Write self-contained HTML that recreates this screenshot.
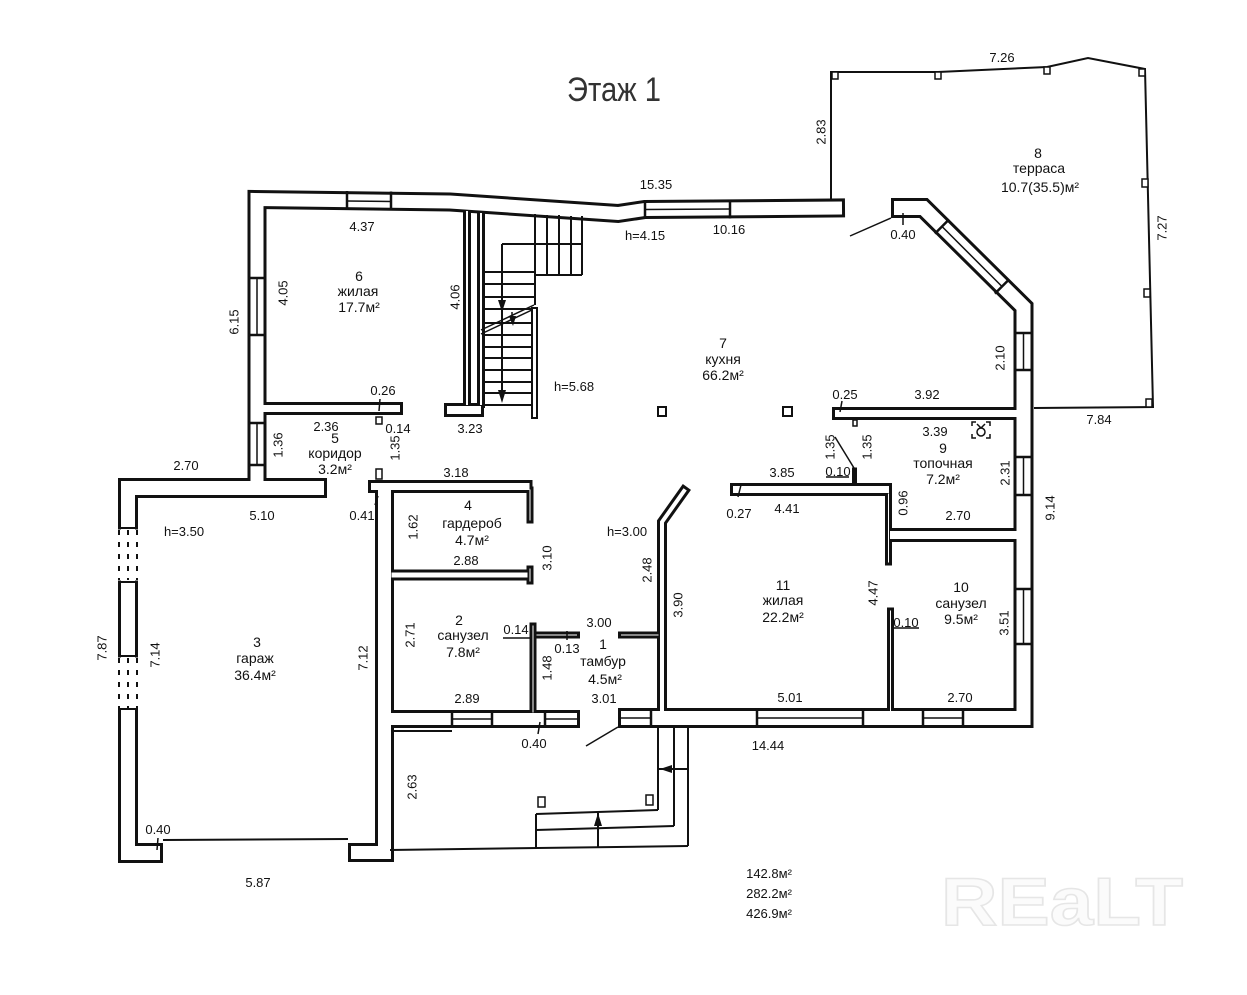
<!DOCTYPE html>
<html><head><meta charset="utf-8"><style>
html,body{margin:0;padding:0;background:#fff;}
svg{display:block;}
text{font-family:"Liberation Sans",sans-serif;fill:#111;}
.d{font-size:13px;text-anchor:middle;}
.r{font-size:14px;text-anchor:middle;}
</style></head><body>
<svg width="1247" height="995" viewBox="0 0 1247 995" xmlns="http://www.w3.org/2000/svg">
<rect width="1247" height="995" fill="#fff"/>

<!-- watermark -->
<text x="941" y="925" font-size="68" font-weight="bold" textLength="242" lengthAdjust="spacingAndGlyphs" style="fill:#fbfbfb;stroke:#e6e6e6;stroke-width:1.5">REaLT</text>

<!-- title -->
<text x="567" y="101" font-size="34" textLength="94" lengthAdjust="spacingAndGlyphs" style="fill:#333">Этаж 1</text>

<!-- terrace -->
<g fill="none" stroke="#111" stroke-width="2">
<polyline points="831,199 831,72 938,72 1047,67 1088,58 1145,69 1153,407 1034,408"/>
</g>
<g fill="#fff" stroke="#111" stroke-width="1.5">
<rect x="832" y="72" width="6" height="7"/>
<rect x="935" y="72" width="6" height="7"/>
<rect x="1044" y="67" width="6" height="7"/>
<rect x="1139" y="69" width="6" height="7"/>
<rect x="1142" y="179" width="6" height="8"/>
<rect x="1144" y="289" width="6" height="8"/>
<rect x="1146" y="399" width="6" height="8"/>
</g>

<!-- walls black pass -->
<g fill="none" stroke="#111" stroke-linejoin="miter" stroke-linecap="square">
<path stroke-width="19" d="M257,478 L257,199.5 L450,202 L618,213.5 L645,209.5 L835.5,208"/>
<path stroke-width="20" d="M317,488 L128,488 L128,853 L153,853"/>
<path stroke-width="19" d="M384.5,493 L384.5,852.5 L357.5,852.5"/>
<path stroke-width="20" d="M628,718 L1023.5,718 L1023.5,307 L923.5,208 L901,208"/>
<path stroke-width="13" d="M257,408.5 L396.5,408.5"/>
<path stroke-width="8" d="M467,212 L467,404"/>
<path stroke-width="8" d="M481,214 L481,404"/>
<path stroke-width="14" d="M451,410 L477,410"/>
<path stroke-width="13" d="M374.5,486.5 L526,486.5"/>
<path stroke-width="7" d="M530,490 L530,520"/>
<path stroke-width="11" d="M394,575 L525,575"/>
<path stroke-width="7" d="M530,569 L530,581"/>
<path stroke-width="18" d="M394,719 L571,719"/>
<path stroke-width="7" d="M533,626 L533,712"/>
<path stroke-width="7" d="M537,635 L576.5,635"/>
<path stroke-width="7" d="M621.5,635 L658,635"/>
<path stroke-width="10" d="M662,712 L662,522 L684,491"/>
<path stroke-width="13" d="M736.5,489.5 L885.5,489.5"/>
<path stroke-width="7" d="M888.5,494 L888.5,562"/>
<path stroke-width="14" d="M894,535 L1020,535"/>
<path stroke-width="7" d="M890.5,611 L890.5,712"/>
<path stroke-width="13" d="M838.5,413.5 L1020,413.5"/>
<path stroke-width="5" d="M854.5,470 L854.5,484"/>
</g>
<!-- walls white pass -->
<g fill="none" stroke="#fff" stroke-linejoin="miter" stroke-linecap="square">
<path stroke-width="13" d="M257,478 L257,199.5 L450,202 L618,213.5 L645,209.5 L835.5,208"/>
<path stroke-width="14" d="M317,488 L128,488 L128,853 L153,853"/>
<path stroke-width="13" d="M384.5,493 L384.5,852.5 L357.5,852.5"/>
<path stroke-width="14" d="M628,718 L1023.5,718 L1023.5,307 L923.5,208 L901,208"/>
<path stroke-width="7" d="M257,408.5 L396.5,408.5"/>
<path stroke-width="2" d="M467,212 L467,404"/>
<path stroke-width="2" d="M481,214 L481,404"/>
<path stroke-width="8" d="M451,410 L477,410"/>
<path stroke-width="7" d="M374.5,486.5 L526,486.5"/>
<path stroke-width="1" d="M530,490 L530,520"/>
<path stroke-width="5" d="M394,575 L525,575"/>
<path stroke-width="1" d="M530,569 L530,581"/>
<path stroke-width="12" d="M394,719 L571,719"/>
<path stroke-width="1" d="M533,626 L533,712"/>
<path stroke-width="1" d="M537,635 L576.5,635"/>
<path stroke-width="1" d="M621.5,635 L658,635"/>
<path stroke-width="4" d="M662,712 L662,522 L684,491"/>
<path stroke-width="7" d="M736.5,489.5 L885.5,489.5"/>
<path stroke-width="1" d="M888.5,494 L888.5,562"/>
<path stroke-width="8" d="M894,535 L1020,535"/>
<path stroke-width="1" d="M890.5,611 L890.5,712"/>
<path stroke-width="7" d="M838.5,413.5 L1020,413.5"/>
</g>

<!-- windows -->
<g stroke="#111" stroke-width="2.5" fill="none">
<line x1="347" y1="191" x2="347" y2="210"/><line x1="391" y1="191.5" x2="391" y2="210.5"/>
<line x1="645" y1="200" x2="645" y2="219"/><line x1="730" y1="199.5" x2="730" y2="218.5"/>
<line x1="247.5" y1="278" x2="266.5" y2="278"/><line x1="247.5" y1="335" x2="266.5" y2="335"/>
<line x1="247.5" y1="423" x2="266.5" y2="423"/><line x1="247.5" y1="465" x2="266.5" y2="465"/>
<line x1="949.1" y1="219.4" x2="934.9" y2="233.6"/><line x1="1009.1" y1="279.4" x2="994.9" y2="293.6"/>
<line x1="1013.5" y1="333" x2="1033.5" y2="333"/><line x1="1013.5" y1="370" x2="1033.5" y2="370"/>
<line x1="1013.5" y1="457" x2="1033.5" y2="457"/><line x1="1013.5" y1="495" x2="1033.5" y2="495"/>
<line x1="1013.5" y1="589" x2="1033.5" y2="589"/><line x1="1013.5" y1="644" x2="1033.5" y2="644"/>
<line x1="757" y1="708" x2="757" y2="728"/><line x1="863" y1="708" x2="863" y2="728"/>
<line x1="923" y1="708" x2="923" y2="728"/><line x1="963" y1="708" x2="963" y2="728"/>
<line x1="651" y1="708" x2="651" y2="728"/>
<line x1="452" y1="710" x2="452" y2="728"/><line x1="492" y1="710" x2="492" y2="728"/>
<line x1="545" y1="710" x2="545" y2="728"/>
</g>
<g stroke="#111" stroke-width="1.5" fill="none">
<line x1="347" y1="201" x2="391" y2="201.5"/>
<line x1="645" y1="209.5" x2="730" y2="209"/>
<line x1="257" y1="278" x2="257" y2="335"/>
<line x1="257" y1="423" x2="257" y2="465"/>
<line x1="942" y1="226.5" x2="1002" y2="286.5"/>
<line x1="1023.5" y1="333" x2="1023.5" y2="370"/>
<line x1="1023.5" y1="457" x2="1023.5" y2="495"/>
<line x1="1023.5" y1="589" x2="1023.5" y2="644"/>
<line x1="757" y1="718" x2="863" y2="718"/>
<line x1="923" y1="718" x2="963" y2="718"/>
<line x1="618" y1="718" x2="651" y2="718"/>
<line x1="452" y1="719" x2="492" y2="719"/>
<line x1="545" y1="719" x2="580" y2="719"/>
</g>

<!-- garage doors -->
<rect x="115.5" y="529.5" width="25" height="51" fill="#fff"/>
<rect x="115.5" y="657.5" width="25" height="51" fill="#fff"/>
<g stroke="#111" stroke-width="2" fill="none">
<line x1="118" y1="528" x2="138" y2="528"/><line x1="118" y1="582" x2="138" y2="582"/>
<line x1="118" y1="656" x2="138" y2="656"/><line x1="118" y1="709" x2="138" y2="709"/>
<g stroke-dasharray="5 7">
<line x1="119" y1="530" x2="119" y2="580"/><line x1="128" y1="530" x2="128" y2="580"/><line x1="137" y1="530" x2="137" y2="580"/>
<line x1="119" y1="658" x2="119" y2="708"/><line x1="128" y1="658" x2="128" y2="708"/><line x1="137" y1="658" x2="137" y2="708"/>
</g>
</g>
<!-- garage bottom -->
<line x1="163" y1="840" x2="348" y2="839" stroke="#111" stroke-width="2"/>

<!-- stairs -->
<g stroke="#111" stroke-width="2" fill="none">
<line x1="535" y1="214" x2="535" y2="305"/>
<line x1="547" y1="215" x2="547" y2="275"/>
<line x1="559" y1="215" x2="559" y2="275"/>
<line x1="571" y1="216" x2="571" y2="275"/>
<line x1="582" y1="216" x2="582" y2="275"/>
<line x1="535" y1="275" x2="582" y2="275"/>
<line x1="502" y1="244" x2="582" y2="244"/>
<line x1="502" y1="244" x2="502" y2="400"/>
<line x1="484" y1="272" x2="535" y2="272"/>
<line x1="484" y1="284" x2="535" y2="284"/>
<line x1="484" y1="297" x2="535" y2="297"/>
<line x1="484" y1="309" x2="533" y2="309"/>
<line x1="484" y1="323" x2="533" y2="323"/>
<line x1="484" y1="335" x2="533" y2="335"/>
<line x1="484" y1="347" x2="533" y2="347"/>
<line x1="484" y1="358" x2="533" y2="358"/>
<line x1="484" y1="370" x2="533" y2="370"/>
<line x1="484" y1="382" x2="533" y2="382"/>
<line x1="484" y1="393" x2="533" y2="393"/>
<line x1="484" y1="405" x2="533" y2="405"/>
<line x1="481" y1="330" x2="534" y2="305" stroke-width="1.5"/>
<line x1="481" y1="334" x2="534" y2="309" stroke-width="1.5"/>
<line x1="512" y1="312" x2="512" y2="322" stroke-width="1.5"/>
</g>
<rect x="532" y="308" width="5" height="110" fill="#fff" stroke="#111" stroke-width="2"/>
<g fill="#111">
<polygon points="498,300 506,300 502,312"/>
<polygon points="498,390 506,390 502,403"/>
<polygon points="509,316 516,316 513,326"/>
</g>

<!-- porch -->
<g stroke="#111" stroke-width="2" fill="none">
<line x1="658" y1="728" x2="658" y2="810"/>
<line x1="536" y1="814" x2="658" y2="810"/>
<line x1="674" y1="728" x2="674" y2="826"/>
<line x1="536" y1="830" x2="674" y2="826"/>
<line x1="688" y1="728" x2="688" y2="846"/>
<line x1="390" y1="850" x2="688" y2="846"/>
<line x1="536" y1="814" x2="536" y2="848"/>
<line x1="598" y1="848" x2="598" y2="813"/>
<line x1="658" y1="769" x2="688" y2="769"/>
<line x1="394" y1="731" x2="452" y2="731"/>
</g>
<g fill="#111">
<polygon points="594,826 602,826 598,813"/>
<polygon points="672,765 672,773 660,769"/>
</g>
<g fill="#fff" stroke="#111" stroke-width="1.5">
<rect x="538" y="797" width="7" height="10"/>
<rect x="646" y="795" width="7" height="10"/>
<rect x="376" y="417" width="6" height="7"/>
<rect x="376" y="469" width="6" height="10"/>
<rect x="853" y="420" width="4" height="6"/>
</g>
<!-- columns -->
<g fill="#fff" stroke="#111" stroke-width="2">
<rect x="658" y="407" width="8" height="9"/>
<rect x="783" y="407" width="9" height="9"/>
</g>

<!-- door swings / ticks / underlines -->
<g stroke="#111" stroke-width="1.5" fill="none">
<line x1="850" y1="236" x2="891" y2="218"/>
<line x1="586" y1="746" x2="618" y2="727"/>
<line x1="835" y1="437" x2="854" y2="468"/>
<line x1="380" y1="399" x2="379" y2="411"/>
<line x1="842" y1="401" x2="840" y2="412"/>
<line x1="741" y1="485" x2="738" y2="497"/>
<line x1="378" y1="496" x2="375" y2="505"/>
<line x1="158" y1="838" x2="157" y2="850"/>
<line x1="540" y1="722" x2="538" y2="734"/>
<line x1="903" y1="213" x2="903" y2="225"/>
<line x1="567" y1="631" x2="567" y2="640"/>
<line x1="826" y1="477" x2="849" y2="477"/>
<line x1="893" y1="628" x2="919" y2="628"/>
<line x1="503" y1="638" x2="530" y2="638"/>
<!-- boiler symbol -->
<path d="M972,426 V422 H976 M986,422 H990 V426 M972,434 V438 H976 M986,438 H990 V434"/>
<circle cx="981" cy="432" r="4"/>
<path d="M977,424 L981,428 L985,424"/>
</g>

<!-- horizontal dimension labels -->
<g class="d">
<text class="d" x="1002" y="62">7.26</text>
<text class="d" x="656" y="189">15.35</text>
<text class="d" x="362" y="231">4.37</text>
<text class="d" x="645" y="240">h=4.15</text>
<text class="d" x="729" y="234">10.16</text>
<text class="d" x="903" y="239">0.40</text>
<text class="d" x="574" y="391">h=5.68</text>
<text class="d" x="383" y="395">0.26</text>
<text class="d" x="845" y="399">0.25</text>
<text class="d" x="927" y="399">3.92</text>
<text class="d" x="326" y="431">2.36</text>
<text class="d" x="398" y="433">0.14</text>
<text class="d" x="470" y="433">3.23</text>
<text class="d" x="935" y="436">3.39</text>
<text class="d" x="838" y="476">0.10</text>
<text class="d" x="782" y="477">3.85</text>
<text class="d" x="186" y="470">2.70</text>
<text class="d" x="456" y="477">3.18</text>
<text class="d" x="262" y="520">5.10</text>
<text class="d" x="362" y="520">0.41</text>
<text class="d" x="184" y="536">h=3.50</text>
<text class="d" x="739" y="518">0.27</text>
<text class="d" x="787" y="513">4.41</text>
<text class="d" x="958" y="520">2.70</text>
<text class="d" x="627" y="536">h=3.00</text>
<text class="d" x="466" y="565">2.88</text>
<text class="d" x="516" y="634">0.14</text>
<text class="d" x="599" y="627">3.00</text>
<text class="d" x="567" y="653">0.13</text>
<text class="d" x="906" y="627">0.10</text>
<text class="d" x="604" y="703">3.01</text>
<text class="d" x="467" y="703">2.89</text>
<text class="d" x="790" y="702">5.01</text>
<text class="d" x="960" y="702">2.70</text>
<text class="d" x="534" y="748">0.40</text>
<text class="d" x="768" y="750">14.44</text>
<text class="d" x="158" y="834">0.40</text>
<text class="d" x="258" y="887">5.87</text>
<text class="d" x="1099" y="424">7.84</text>
<text class="d" x="769" y="878">142.8м²</text>
<text class="d" x="769" y="898">282.2м²</text>
<text class="d" x="769" y="918">426.9м²</text>
</g>

<!-- vertical dimension labels -->
<g>
<text class="d" transform="translate(821,132) rotate(-90)" y="4.5">2.83</text>
<text class="d" transform="translate(1162,228) rotate(-90)" y="4.5">7.27</text>
<text class="d" transform="translate(283,293) rotate(-90)" y="4.5">4.05</text>
<text class="d" transform="translate(455,297) rotate(-90)" y="4.5">4.06</text>
<text class="d" transform="translate(234,322) rotate(-90)" y="4.5">6.15</text>
<text class="d" transform="translate(1000,358) rotate(-90)" y="4.5">2.10</text>
<text class="d" transform="translate(278,445) rotate(-90)" y="4.5">1.36</text>
<text class="d" transform="translate(395,448) rotate(-90)" y="4.5">1.35</text>
<text class="d" transform="translate(830,447) rotate(-90)" y="4.5">1.35</text>
<text class="d" transform="translate(867,447) rotate(-90)" y="4.5">1.35</text>
<text class="d" transform="translate(1005,473) rotate(-90)" y="4.5">2.31</text>
<text class="d" transform="translate(1050,508) rotate(-90)" y="4.5">9.14</text>
<text class="d" transform="translate(903,503) rotate(-90)" y="4.5">0.96</text>
<text class="d" transform="translate(413,527) rotate(-90)" y="4.5">1.62</text>
<text class="d" transform="translate(547,558) rotate(-90)" y="4.5">3.10</text>
<text class="d" transform="translate(647,570) rotate(-90)" y="4.5">2.48</text>
<text class="d" transform="translate(678,605) rotate(-90)" y="4.5">3.90</text>
<text class="d" transform="translate(873,593) rotate(-90)" y="4.5">4.47</text>
<text class="d" transform="translate(1004,623) rotate(-90)" y="4.5">3.51</text>
<text class="d" transform="translate(410,635) rotate(-90)" y="4.5">2.71</text>
<text class="d" transform="translate(547,668) rotate(-90)" y="4.5">1.48</text>
<text class="d" transform="translate(102,648) rotate(-90)" y="4.5">7.87</text>
<text class="d" transform="translate(155,655) rotate(-90)" y="4.5">7.14</text>
<text class="d" transform="translate(363,658) rotate(-90)" y="4.5">7.12</text>
<text class="d" transform="translate(412,787) rotate(-90)" y="4.5">2.63</text>
</g>

<!-- room labels -->
<g>
<text class="r" x="359" y="281">6</text><text class="r" x="358" y="296">жилая</text><text class="r" x="359" y="312">17.7м²</text>
<text class="r" x="723" y="348">7</text><text class="r" x="723" y="364">кухня</text><text class="r" x="723" y="380">66.2м²</text>
<text class="r" x="1038" y="158">8</text><text class="r" x="1039" y="173">терраса</text><text class="r" x="1040" y="192">10.7(35.5)м²</text>
<text class="r" x="335" y="443">5</text><text class="r" x="335" y="458">коридор</text><text class="r" x="335" y="474">3.2м²</text>
<text class="r" x="943" y="453">9</text><text class="r" x="943" y="468">топочная</text><text class="r" x="943" y="484">7.2м²</text>
<text class="r" x="468" y="510">4</text><text class="r" x="472" y="528">гардероб</text><text class="r" x="472" y="545">4.7м²</text>
<text class="r" x="783" y="590">11</text><text class="r" x="783" y="605">жилая</text><text class="r" x="783" y="622">22.2м²</text>
<text class="r" x="961" y="592">10</text><text class="r" x="961" y="608">санузел</text><text class="r" x="961" y="624">9.5м²</text>
<text class="r" x="257" y="647">3</text><text class="r" x="255" y="663">гараж</text><text class="r" x="255" y="680">36.4м²</text>
<text class="r" x="459" y="625">2</text><text class="r" x="463" y="640">санузел</text><text class="r" x="463" y="657">7.8м²</text>
<text class="r" x="603" y="649">1</text><text class="r" x="603" y="666">тамбур</text><text class="r" x="605" y="684">4.5м²</text>
</g>
</svg>
</body></html>
